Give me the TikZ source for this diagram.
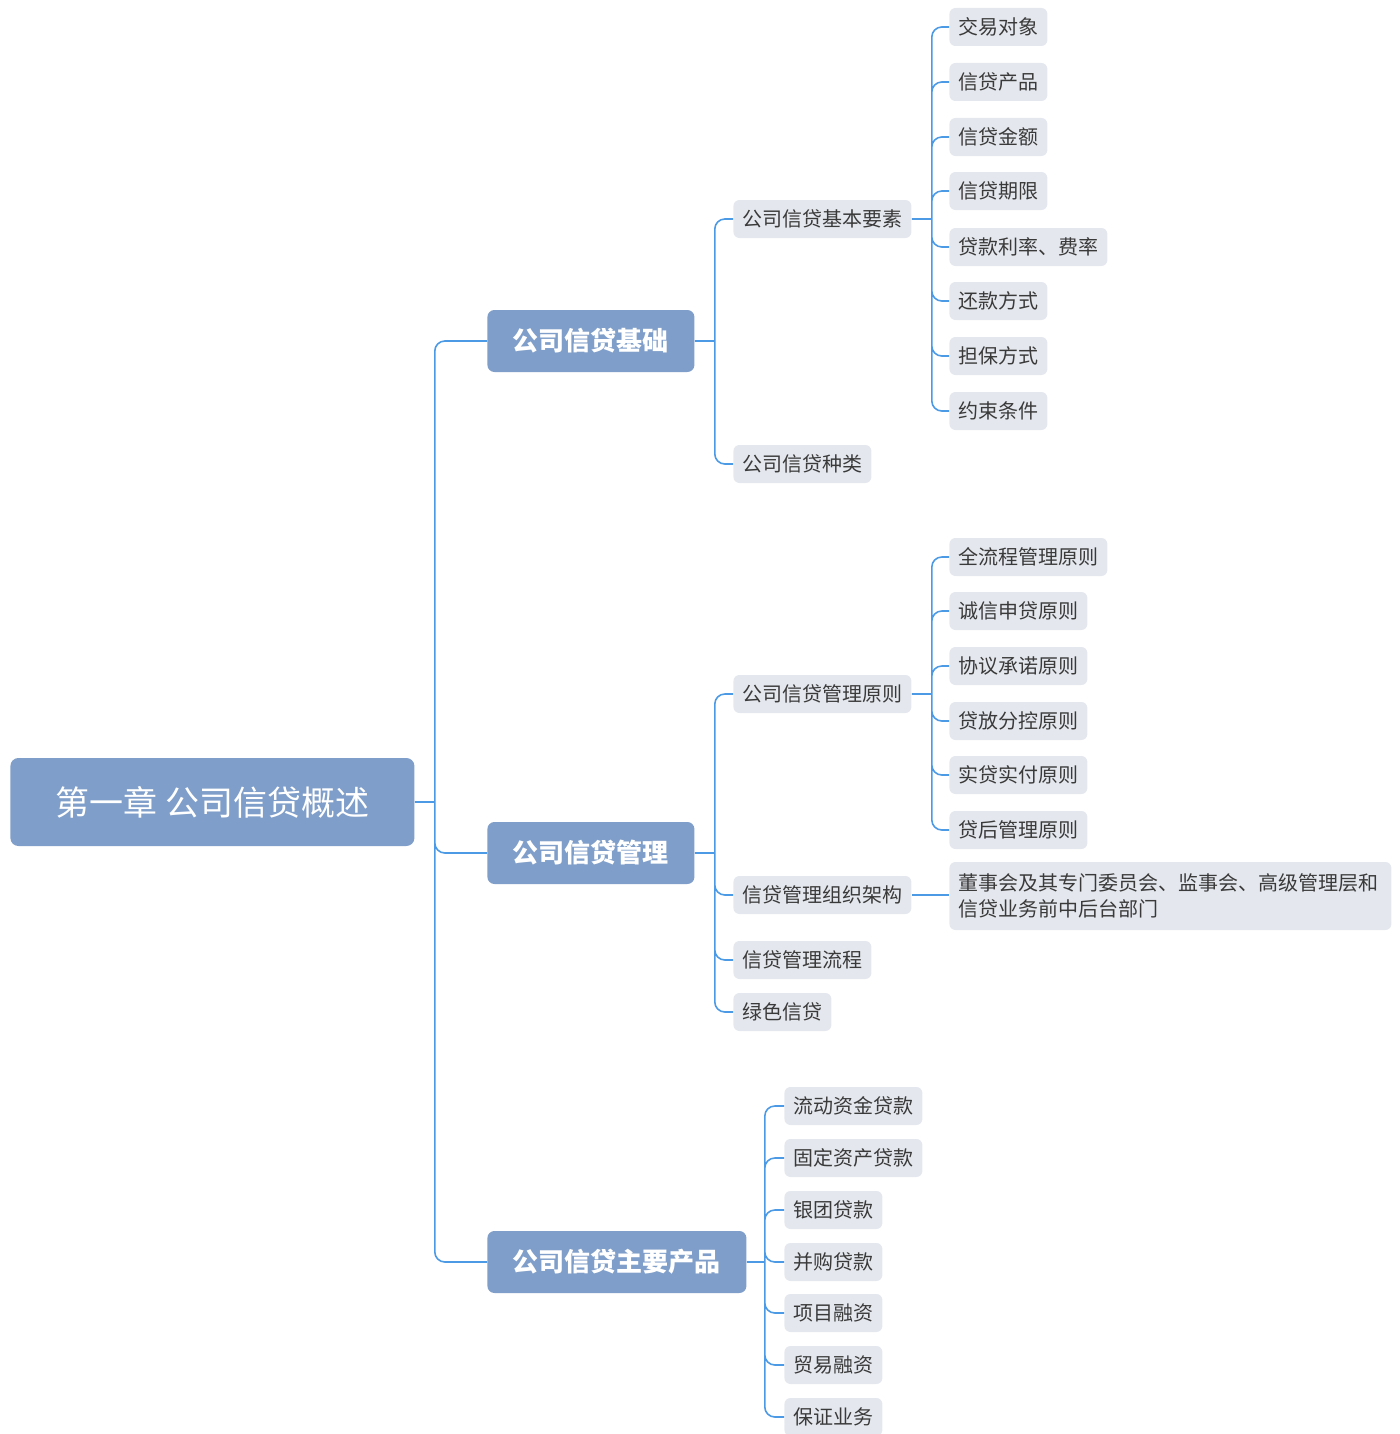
\documentclass[tikz,border=0pt]{standalone}
\usepackage{fontspec}
\setmainfont{Noto Sans CJK SC}
\usetikzlibrary{positioning}
\definecolor{topicblue}{HTML}{7F9EC9}
\definecolor{subgray}{HTML}{E4E8EE}
\definecolor{textgray}{HTML}{3A3A3A}
\definecolor{linkblue}{HTML}{4C9AE6}
\tikzstyle{root topic} = [%
	rectangle,
	rounded corners=4pt,
	fill=topicblue,
	text=white,
	anchor=west,
	minimum width=202pt,
	minimum height=44pt,
	font=\fontsize{17}{20}\selectfont
]
\tikzstyle{main topic} = [%
	rectangle,
	rounded corners=3.5pt,
	fill=topicblue,
	text=white,
	anchor=west,
	inner xsep=12.75pt,
	minimum height=31pt,
	font=\fontsize{13}{16}\selectfont\bfseries
]
\tikzstyle{sub topic} = [%
	rectangle,
	rounded corners=3pt,
	fill=subgray,
	text=textgray,
	anchor=west,
	inner xsep=4.5pt,
	minimum height=19pt,
	font=\fontsize{10}{13}\selectfont
]
\tikzstyle{branch} = [draw=linkblue, line width=0.8pt, rounded corners=5pt]

\begin{document}
\begin{tikzpicture}[x=0.5pt, y=-0.5pt]
\useasboundingbox (0,0) rectangle (1400,1434);

% root and main topics
\node[root topic] (root) at (10,802) {第一章 公司信贷概述};
\node[main topic] (basis) at (487,341) {公司信贷基础};
\node[main topic] (manage) at (487,853) {公司信贷管理};
\node[main topic] (products) at (487,1262) {公司信贷主要产品};

% first part: basis
\node[sub topic] (elements) at (733,219) {公司信贷基本要素};
\node[sub topic] (kinds) at (733,464) {公司信贷种类};
\node[sub topic] (a1) at (949,27) {交易对象};
\node[sub topic] (a2) at (949,82) {信贷产品};
\node[sub topic] (a3) at (949,137) {信贷金额};
\node[sub topic] (a4) at (949,191) {信贷期限};
\node[sub topic] (a5) at (949,247) {贷款利率、费率};
\node[sub topic] (a6) at (949,301) {还款方式};
\node[sub topic] (a7) at (949,356) {担保方式};
\node[sub topic] (a8) at (949,411) {约束条件};

% second part: management
\node[sub topic] (principles) at (733,694) {公司信贷管理原则};
\node[sub topic] (org) at (733,895) {信贷管理组织架构};
\node[sub topic] (process) at (733,960) {信贷管理流程};
\node[sub topic] (green) at (733,1012) {绿色信贷};
\node[sub topic] (b1) at (949,557) {全流程管理原则};
\node[sub topic] (b2) at (949,611) {诚信申贷原则};
\node[sub topic] (b3) at (949,666) {协议承诺原则};
\node[sub topic] (b4) at (949,721) {贷放分控原则};
\node[sub topic] (b5) at (949,775) {实贷实付原则};
\node[sub topic] (b6) at (949,830) {贷后管理原则};
\node[sub topic, text width=212pt, align=left, minimum height=34pt] (board) at (949,896) {%
	董事会及其专门委员会、监事会、高级管理层和\\信贷业务前中后台部门
};

% third part: products
\node[sub topic] (c1) at (784,1106) {流动资金贷款};
\node[sub topic] (c2) at (784,1158) {固定资产贷款};
\node[sub topic] (c3) at (784,1210) {银团贷款};
\node[sub topic] (c4) at (784,1262) {并购贷款};
\node[sub topic] (c5) at (784,1313) {项目融资};
\node[sub topic] (c6) at (784,1365) {贸易融资};
\node[sub topic] (c7) at (784,1417) {保证业务};

% joints
\coordinate (root joint) at ([xshift=10pt] root.east);
\coordinate (basis joint) at ([xshift=10pt] basis.east);
\coordinate (elements joint) at ([xshift=10pt] elements.east);
\coordinate (manage joint) at ([xshift=10pt] manage.east);
\coordinate (principles joint) at ([xshift=10pt] principles.east);
\coordinate (products joint) at ([xshift=9pt] products.east);

% branches
\draw[branch] (root.east) -- (root joint)
  (root joint) |- (basis.west)
  (root joint) |- (manage.west)
  (root joint) |- (products.west);
\draw[branch] (basis.east) -- (basis joint)
  (basis joint) |- (elements.west)
  (basis joint) |- (kinds.west);
\draw[branch] (elements.east) -- (elements joint)
  (elements joint) |- (a1.west) (elements joint) |- (a2.west)
  (elements joint) |- (a3.west) (elements joint) |- (a4.west)
  (elements joint) |- (a5.west) (elements joint) |- (a6.west)
  (elements joint) |- (a7.west) (elements joint) |- (a8.west);
\draw[branch] (manage.east) -- (manage joint)
  (manage joint) |- (principles.west)
  (manage joint) |- (org.west)
  (manage joint) |- (process.west)
  (manage joint) |- (green.west);
\draw[branch] (principles.east) -- (principles joint)
  (principles joint) |- (b1.west) (principles joint) |- (b2.west)
  (principles joint) |- (b3.west) (principles joint) |- (b4.west)
  (principles joint) |- (b5.west) (principles joint) |- (b6.west);
\draw[branch] (org.east) -- (org.east-|board.west);
\draw[branch] (products.east) -- (products joint)
  (products joint) |- (c1.west) (products joint) |- (c2.west)
  (products joint) |- (c3.west) (products joint) |- (c4.west)
  (products joint) |- (c5.west) (products joint) |- (c6.west)
  (products joint) |- (c7.west);

\end{tikzpicture}
\end{document}
